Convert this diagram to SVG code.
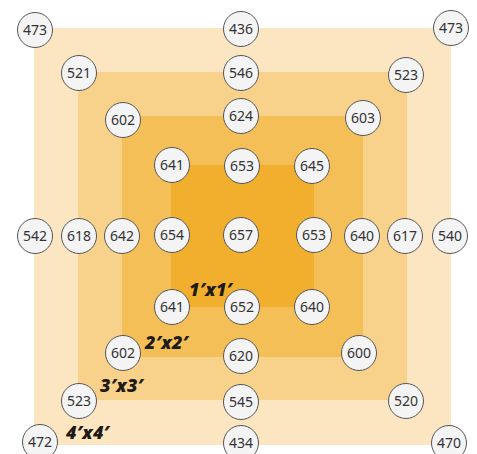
<svg xmlns="http://www.w3.org/2000/svg" width="477" height="454" viewBox="0 0 477 454">
<style>
.n circle{fill:#f4f4f4;stroke:#555;stroke-width:1}
.n text{font-family:"Noto Sans","Open Sans",sans-serif;font-size:14px;fill:#333;text-anchor:middle}
.lbl{font-family:"Noto Sans","Liberation Sans",sans-serif;font-size:18px;font-weight:900;font-style:italic;fill:#1e1a16;letter-spacing:0.5px}
</style>
<rect width="477" height="454" fill="#ffffff"/>
<g id="squares">
<rect x="34" y="28" width="417" height="417" fill="#fce6c1"/>
<rect x="78" y="72" width="329" height="328" fill="#f8d18a"/>
<rect x="122" y="116" width="241" height="241" fill="#f5bf57"/>
<rect x="171" y="165" width="143" height="142" fill="#f2af2d"/>
</g>
<g id="connectors"></g>
<g id="labels">
<text class="lbl" x="189" y="296">1′x1′</text>
<text class="lbl" x="145" y="349">2′x2′</text>
<text class="lbl" x="100" y="392">3′x3′</text>
<text class="lbl" x="66" y="439">4′x4′</text>
</g>
<g id="n473a" class="n"><circle cx="35" cy="30" r="17.5"/><text x="35" y="35">473</text></g>
<g id="n436" class="n"><circle cx="241" cy="29" r="17.5"/><text x="241" y="34">436</text></g>
<g id="n473b" class="n"><circle cx="451" cy="28" r="17.5"/><text x="451" y="33">473</text></g>
<g id="n521" class="n"><circle cx="79" cy="73" r="17.5"/><text x="79" y="78">521</text></g>
<g id="n546" class="n"><circle cx="241" cy="73" r="17.5"/><text x="241" y="78">546</text></g>
<g id="n523a" class="n"><circle cx="406" cy="75" r="17.5"/><text x="406" y="80">523</text></g>
<g id="n602a" class="n"><circle cx="123" cy="120" r="17.5"/><text x="123" y="125">602</text></g>
<g id="n624" class="n"><circle cx="241" cy="116" r="17.5"/><text x="241" y="121">624</text></g>
<g id="n603" class="n"><circle cx="363" cy="118" r="17.5"/><text x="363" y="123">603</text></g>
<g id="n641a" class="n"><circle cx="172" cy="165" r="17.5"/><text x="172" y="170">641</text></g>
<g id="n653a" class="n"><circle cx="242" cy="166" r="17.5"/><text x="242" y="171">653</text></g>
<g id="n645" class="n"><circle cx="312" cy="166" r="17.5"/><text x="312" y="171">645</text></g>
<g id="n542" class="n"><circle cx="35" cy="236" r="17.5"/><text x="35" y="241">542</text></g>
<g id="n618" class="n"><circle cx="79" cy="236" r="17.5"/><text x="79" y="241">618</text></g>
<g id="n642" class="n"><circle cx="122" cy="236" r="17.5"/><text x="122" y="241">642</text></g>
<g id="n654" class="n"><circle cx="172" cy="235" r="17.5"/><text x="172" y="240">654</text></g>
<g id="n657" class="n"><circle cx="241" cy="235" r="17.5"/><text x="241" y="240">657</text></g>
<g id="n653b" class="n"><circle cx="314" cy="235" r="17.5"/><text x="314" y="240">653</text></g>
<g id="n640a" class="n"><circle cx="362" cy="236" r="17.5"/><text x="362" y="241">640</text></g>
<g id="n617" class="n"><circle cx="405" cy="236" r="17.5"/><text x="405" y="241">617</text></g>
<g id="n540" class="n"><circle cx="450" cy="236" r="17.5"/><text x="450" y="241">540</text></g>
<g id="n641b" class="n"><circle cx="172" cy="307" r="17.5"/><text x="172" y="312">641</text></g>
<g id="n652" class="n"><circle cx="242" cy="307" r="17.5"/><text x="242" y="312">652</text></g>
<g id="n640b" class="n"><circle cx="312" cy="307" r="17.5"/><text x="312" y="312">640</text></g>
<g id="n602b" class="n"><circle cx="123" cy="353" r="17.5"/><text x="123" y="358">602</text></g>
<g id="n620" class="n"><circle cx="241" cy="356" r="17.5"/><text x="241" y="361">620</text></g>
<g id="n600" class="n"><circle cx="359" cy="353" r="17.5"/><text x="359" y="358">600</text></g>
<g id="n523b" class="n"><circle cx="79" cy="401" r="17.5"/><text x="79" y="406">523</text></g>
<g id="n545" class="n"><circle cx="241" cy="402" r="17.5"/><text x="241" y="407">545</text></g>
<g id="n520" class="n"><circle cx="406" cy="401" r="17.5"/><text x="406" y="406">520</text></g>
<g id="n472" class="n"><circle cx="40" cy="442" r="17.5"/><text x="40" y="447">472</text></g>
<g id="n434" class="n"><circle cx="241" cy="443" r="17.5"/><text x="241" y="448">434</text></g>
<g id="n470" class="n"><circle cx="449" cy="443" r="17.5"/><text x="449" y="448">470</text></g>
</svg>
